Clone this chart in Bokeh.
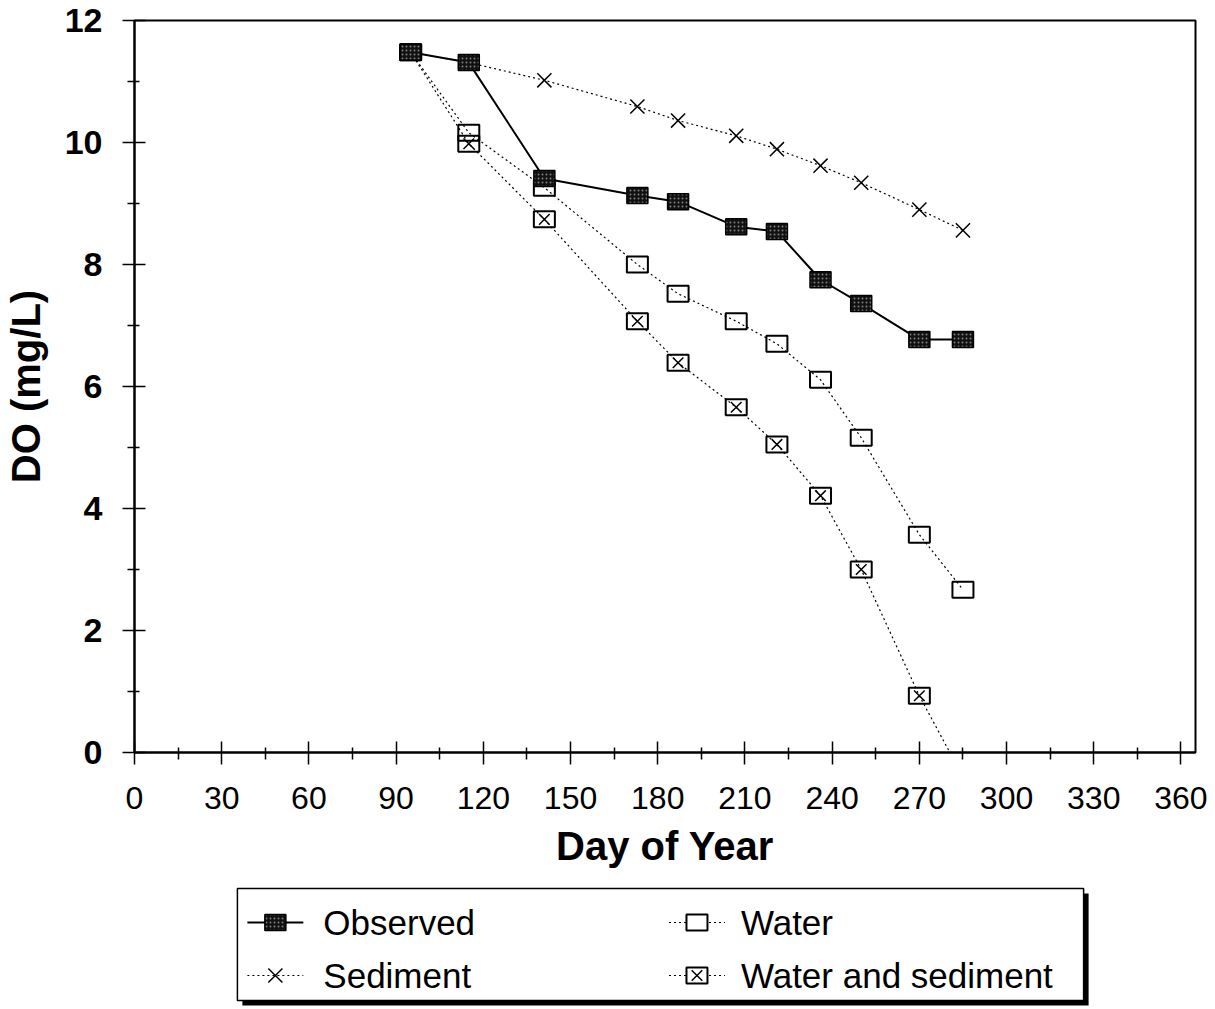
from bokeh.plotting import figure
from bokeh.models import FixedTicker, Range1d, ColumnDataSource
from bokeh.layouts import column
from bokeh.core.properties import value
from bokeh.embed import file_html
from bokeh.resources import INLINE

FONT = "Liberation Sans"

# ---- data ----
days = [95, 115, 141, 173, 187, 207, 221, 236, 250, 270, 285]
observed = [11.48, 11.31, 9.41, 9.13, 9.03, 8.62, 8.54, 7.75, 7.36, 6.77, 6.77]
sediment = [11.48, 11.31, 11.02, 10.59, 10.36, 10.11, 9.89, 9.62, 9.34, 8.90, 8.56]
water = [11.48, 10.16, 9.26, 8.00, 7.52, 7.07, 6.70, 6.11, 5.16, 3.57, 2.67]
water_sed = [11.48, 9.98, 8.74, 7.07, 6.39, 5.66, 5.05, 4.21, 3.00, 0.93, -0.40]

x_ticks = list(range(0, 361, 30))
x_minor = list(range(15, 360, 30))
y_ticks = [0, 2, 4, 6, 8, 10, 12]
y_minor = [1, 3, 5, 7, 9, 11]

legend_labels = ["Observed", "Sediment", "Water", "Water and sediment"]

MW, MH = 21, 16  # marker box size (screen px)

p = figure(width=1215, height=880, output_backend="svg", toolbar_location=None,
           x_range=Range1d(0, 365), y_range=Range1d(0, 12),
           min_border_left=133, min_border_right=20, min_border_top=20,
           min_border_bottom=128)
p.grid.visible = False
p.outline_line_color = "black"
p.outline_line_width = 2
p.background_fill_color = "white"
p.border_fill_color = "white"

p.xaxis.ticker = FixedTicker(ticks=x_ticks, minor_ticks=x_minor)
p.yaxis.ticker = FixedTicker(ticks=y_ticks, minor_ticks=y_minor)
for ax in (p.xaxis[0], p.yaxis[0]):
    ax.axis_line_width = 2
    ax.axis_line_color = "black"
    ax.major_tick_line_width = 1.5
    ax.minor_tick_line_width = 1.5
    ax.major_tick_line_color = "black"
    ax.minor_tick_line_color = "black"
    ax.major_tick_in = 11
    ax.major_tick_out = 12
    ax.minor_tick_in = 5
    ax.minor_tick_out = 7
    ax.major_label_text_font = FONT
    ax.major_label_text_color = "black"
    ax.axis_label_text_font = FONT
    ax.axis_label_text_font_style = "bold"
    ax.axis_label_text_color = "black"
    ax.axis_label_text_font_size = "40px"

p.xaxis.axis_label = "Day of Year"
p.xaxis.major_label_text_font_size = "32px"
p.xaxis.major_label_standoff = 22
p.xaxis.axis_label_standoff = 12
p.yaxis.axis_label = "DO (mg/L)"
p.yaxis.major_label_text_font_size = "34px"
p.yaxis.major_label_text_font_style = "bold"
p.yaxis.major_label_standoff = 20
p.yaxis.axis_label_standoff = 14

src = ColumnDataSource(dict(x=days, obs=observed, sed=sediment, wat=water, ws=water_sed))

# Sediment
p.line("x", "sed", source=src, line_color="black", line_width=1.2, line_dash="2 3")
p.scatter("x", "sed", source=src, marker="x", size=20, line_color="black", line_width=1.5)
# Water
p.line("x", "wat", source=src, line_color="black", line_width=1.2, line_dash="2 3")
p.rect("x", "wat", source=src, width=MW, height=MH, width_units="screen", height_units="screen",
       fill_color=None, line_color="black", line_width=2)
# Water and sediment
p.line("x", "ws", source=src, line_color="black", line_width=1.2, line_dash="2 3")
p.rect("x", "ws", source=src, width=MW, height=MH, width_units="screen", height_units="screen",
       fill_color=None, line_color="black", line_width=2)
p.scatter("x", "ws", source=src, marker="x", size=15, line_color="black", line_width=1.5)
# Observed
p.line("x", "obs", source=src, line_color="black", line_width=2)
p.rect("x", "obs", source=src, width=MW, height=MH, width_units="screen", height_units="screen",
       fill_color="#111111", line_color="black", line_width=1.5,
       hatch_pattern="dot", hatch_color="white", hatch_scale=4, hatch_weight=1, hatch_alpha=0.45)

# ---- legend panel (its frame is aligned with the main frame: 133..1195 px) ----
lg = figure(width=1215, height=129, output_backend="svg", toolbar_location=None,
            x_range=Range1d(133, 1195), y_range=Range1d(129, 0),
            x_axis_type=None, y_axis_type=None,
            min_border=0, min_border_left=0, min_border_right=0,
            min_border_top=0, min_border_bottom=0)
lg.grid.visible = False
lg.outline_line_color = None
lg.background_fill_color = "white"
lg.border_fill_color = "white"

box_l, box_r, box_t, box_b = 236, 1083, 8, 120
lg.quad(left=[box_l + 5], right=[box_r + 5], top=[box_t + 5], bottom=[box_b + 5],
        fill_color="black", line_color=None)
lg.quad(left=[box_l], right=[box_r], top=[box_t], bottom=[box_b],
        fill_color="white", line_color="black", line_width=1.5)

col_line_x0 = [246, 246, 668, 668]
col_line_x1 = [302, 302, 724, 724]
col_mark_x = [274, 274, 696, 696]
col_text_x = [322, 322, 740, 740]
row_y = [42, 95, 42, 95]
dashes = ["solid", "2 3", "2 3", "2 3"]
widths = [2, 1.2, 1.2, 1.2]

for i in range(4):
    lg.segment(x0=[col_line_x0[i]], y0=[row_y[i]], x1=[col_line_x1[i]], y1=[row_y[i]],
               line_color="black", line_width=widths[i], line_dash=dashes[i])

# Observed marker
lg.rect(x=[col_mark_x[0]], y=[row_y[0]], width=MW, height=MH, width_units="screen",
        height_units="screen", fill_color="#111111", line_color="black", line_width=1.5,
        hatch_pattern="dot", hatch_color="white", hatch_scale=4, hatch_weight=1, hatch_alpha=0.45)
# Sediment marker
lg.scatter(x=[col_mark_x[1]], y=[row_y[1]], marker="x", size=20, line_color="black", line_width=1.5)
# Water marker
lg.rect(x=[col_mark_x[2]], y=[row_y[2]], width=MW, height=MH, width_units="screen",
        height_units="screen", fill_color="white", line_color="black", line_width=2)
# Water and sediment marker
lg.rect(x=[col_mark_x[3]], y=[row_y[3]], width=MW, height=MH, width_units="screen",
        height_units="screen", fill_color="white", line_color="black", line_width=2)
lg.scatter(x=[col_mark_x[3]], y=[row_y[3]], marker="x", size=15, line_color="black", line_width=1.5)

lg.text(x=col_text_x, y=row_y, text=legend_labels, text_font=value(FONT),
        text_font_size="35px", text_baseline="middle", text_align="left", text_color="black")

layout = column(p, lg, spacing=0)
open("out.html", "w").write(file_html(layout, INLINE))
